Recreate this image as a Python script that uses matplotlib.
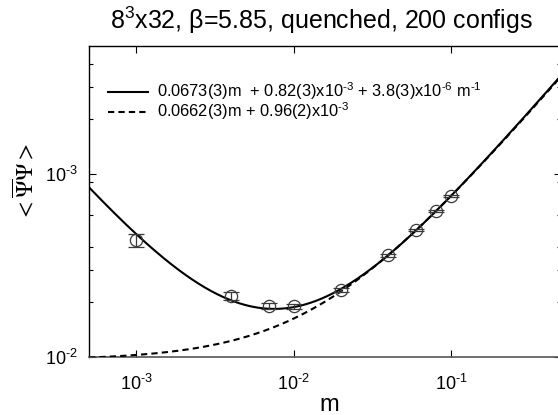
import numpy as np
import matplotlib
matplotlib.use("Agg")
import matplotlib.pyplot as plt
from matplotlib.ticker import FixedLocator, FixedFormatter, NullLocator

plt.rcParams['font.family'] = ['Liberation Sans', 'DejaVu Sans']
plt.rcParams['mathtext.fontset'] = 'custom'
plt.rcParams['mathtext.rm'] = 'Liberation Sans'
plt.rcParams['mathtext.it'] = 'Liberation Sans:italic'
plt.rcParams['mathtext.bf'] = 'Liberation Sans:bold'

# ---- data ----
mass = [0.001, 0.004, 0.007, 0.01, 0.02, 0.04, 0.06, 0.08, 0.1]
pbp = [0.00436, 0.00215, 0.0019, 0.0019, 0.00232, 0.0036, 0.00494, 0.00628, 0.00758]
pbp_err = [0.00035, 0.00011, 0.00007, 0.00006, 0.00005, 0.00006, 0.00007, 0.00008, 0.00009]

# fit coefficients (from the legend)
fit1 = [0.0673, 0.82e-3, 3.8e-6]   # a*m + b + c/m
fit2 = [0.0662, 0.96e-3]           # a*m + b

label1 = (r'0.0673(3)m  + 0.82(3)x$\mathregular{10^{\text{-}3}}$ + 3.8(3)x'
          r'$\mathregular{10^{\text{-}6}}$ $\mathregular{m^{\text{-}1}}$')
label2 = r'0.0662(3)m + 0.96(2)x$\mathregular{10^{\text{-}3}}$'

xlim = (5e-4, 0.5)
ylim = (1e-3, 0.05)
ytick_pos = [1e-3, 1e-2]
ytick_lab = [r'$\mathregular{10^{\text{-}2}}$', r'$\mathregular{10^{\text{-}3}}$']
yminor_pos = [0.002, 0.003, 0.004, 0.006, 0.009, 0.02, 0.03, 0.04]
xtick_pos = [1e-3, 1e-2, 1e-1]
xtick_lab = [r'$\mathregular{10^{\text{-}3}}$', r'$\mathregular{10^{\text{-}2}}$',
             r'$\mathregular{10^{\text{-}1}}$']

W, H = 558, 415
fig = plt.figure(figsize=(W / 100, H / 100), dpi=100)
ax = fig.add_axes([89 / W, 1 - 357 / H, (561 - 89) / W, (357 - 46) / H])
ax.set_xscale('log')
ax.set_yscale('log')

mgrid = np.logspace(np.log10(xlim[0]), np.log10(xlim[1]), 500)
ax.plot(mgrid, fit1[0] * mgrid + fit1[1] + fit1[2] / mgrid, color='black', lw=1.5,
        label=label1, zorder=3)
ax.plot(mgrid, fit2[0] * mgrid + fit2[1], color='black', lw=1.5, dashes=(3, 2),
        label=label2, zorder=3)
ax.errorbar(mass, pbp, yerr=pbp_err, fmt='o', mfc='none', mec='#3a3a3a', ms=8.8,
            mew=0.9, ecolor='#3a3a3a', elinewidth=0.9, capsize=6, capthick=0.9,
            zorder=4)

ax.set_xlim(*xlim)
ax.set_ylim(*ylim)
ax.xaxis.set_major_locator(FixedLocator(xtick_pos))
ax.xaxis.set_major_formatter(FixedFormatter(xtick_lab))
ax.xaxis.set_minor_locator(NullLocator())
ax.yaxis.set_major_locator(FixedLocator(ytick_pos))
ax.yaxis.set_major_formatter(FixedFormatter(ytick_lab))
ax.yaxis.set_minor_locator(FixedLocator(yminor_pos))
ax.yaxis.set_minor_formatter(FixedFormatter([''] * len(yminor_pos)))

ax.tick_params(which='both', direction='in', top=True, right=True, width=0.8,
               color='black')
ax.tick_params(which='major', length=5, labelsize=13)
ax.tick_params(which='minor', length=3)
ax.tick_params(axis='x', pad=12)
ax.tick_params(axis='y', pad=8)
for s in ['left', 'top', 'right']:
    ax.spines[s].set_linewidth(1.0)
    ax.spines[s].set_color('black')
ax.spines['bottom'].set_linewidth(1.2)
ax.spines['bottom'].set_color('#555555')

leg = ax.legend(loc='upper left', bbox_to_anchor=(0.027, 0.91), frameon=False,
                fontsize=11.8, handlelength=2.4, handletextpad=0.6,
                labelspacing=-0.1, borderaxespad=0)

fig.text(322 / W, 1 - 29 / H,
         r'$\mathregular{8^3}$x32, β=5.85, quenched, 200 configs',
         ha='center', va='baseline', fontsize=18)
fig.text(329 / W, 1 - 411 / H, 'm', ha='center', va='baseline', fontsize=17)
fig.text(25 / W, 1 - 182 / H, r'${<}\overline{\Psi}\Psi{>}$', rotation=90,
         ha='center', va='center', fontsize=17, math_fontfamily='stix')

fig.savefig('out.png', dpi=100)
